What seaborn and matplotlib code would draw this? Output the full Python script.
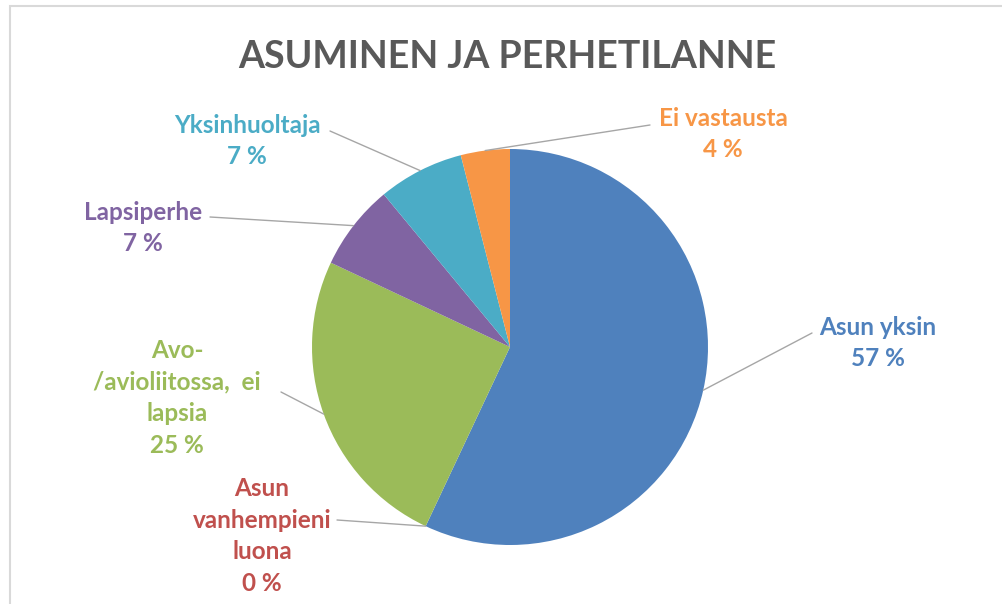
import numpy as np
import matplotlib
matplotlib.use("Agg")
import matplotlib.pyplot as plt
from matplotlib.patches import Rectangle
import seaborn as sns

# ---- data ----
categories = ["Asun yksin", "Asun vanhempieni luona", "Avo-/avioliitossa, ei lapsia",
              "Lapsiperhe", "Yksinhuoltaja", "Ei vastausta"]
label_texts = ["Asun yksin", "Asun\nvanhempieni\nluona", "Avo-\n/avioliitossa,  ei\nlapsia",
               "Lapsiperhe", "Yksinhuoltaja", "Ei vastausta"]
values = [57, 0, 25, 7, 7, 4]
title = "ASUMINEN JA PERHETILANNE"

# ---- style ----
colors = ["#4F81BD", "#C0504D", "#9BBB59", "#8064A2", "#4BACC6", "#F79646"]
sns.set_theme(style="white")
plt.rcParams["font.family"] = ["Lato", "DejaVu Sans"]

W, H, DPI = 1003, 604, 100
cx, cy, R = 510, 347, 198  # pie center / radius in pixels (from top-left)

fig = plt.figure(figsize=(W / DPI, H / DPI), dpi=DPI)
ax = fig.add_axes([0, 0, 1, 1])

ax.pie(values, colors=sns.color_palette(colors), startangle=90, counterclock=False,
       radius=1, center=(0, 0), wedgeprops=dict(linewidth=0), normalize=True)

ax.set_xlim(-cx / R, (W - cx) / R)
ax.set_ylim(-(H - cy) / R, cy / R)
ax.set_aspect("equal")
ax.axis("off")


def px(x, y):
    return (x - cx) / R, (cy - y) / R


# label anchor positions (pixels)
label_pos = [(878, 343), (262, 536), (177, 398), (143, 228), (247, 141), (723, 134)]
leader_end = [(812, 333), (337, 520), (281, 392), (210, 217), (330, 131), (650, 125)]

total = sum(values)
cum = 0.0
for i, v in enumerate(values):
    mid = cum + v / 2.0
    cum += v
    ang = np.deg2rad(90 - 360 * mid / total)
    ex, ey = np.cos(ang), np.sin(ang)
    lx, ly = px(*leader_end[i])
    ax.plot([ex, lx], [ey, ly], color="#A6A6A6", lw=1.0, zorder=1)
    tx, ty = label_pos[i]
    txt = f"{label_texts[i]}\n{v} %"
    x_, y_ = px(tx, ty)
    ax.text(x_, y_, txt, ha="center", va="center", multialignment="center",
            color=colors[i], fontsize=17.5, fontweight="bold", linespacing=1.45)

fig.text(507 / W, 1 - 57 / H, title, ha="center", va="center", fontsize=27,
         fontweight="bold", color="#595959")

# chart frame
fig.patches.append(Rectangle((10 / W, -0.1), 1.2, (H - 6) / H + 0.1,
                             transform=fig.transFigure, fill=False,
                             edgecolor="#D9D9D9", lw=1.5))

fig.savefig("out.png", dpi=DPI)
